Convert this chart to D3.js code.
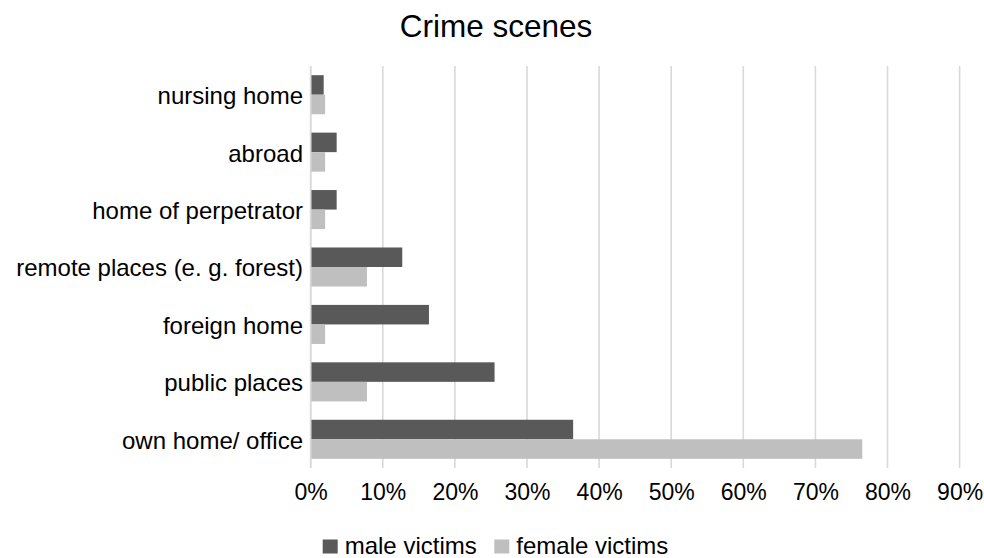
<!DOCTYPE html>
<html>
<head>
<meta charset="utf-8">
<script src="https://cdn.jsdelivr.net/npm/d3@7"></script>
<style>
  html, body { margin: 0; padding: 0; background: #fff; }
  svg { display: block; font-family: "Liberation Sans", Arial, sans-serif; }
</style>
</head>
<body>
<svg id="chart" width="984" height="558"></svg>
<script>
// Crime scenes by victim sex, share of cases
const categories = [
  "nursing home",
  "abroad",
  "home of perpetrator",
  "remote places (e. g. forest)",
  "foreign home",
  "public places",
  "own home/ office"
];
const maleValues   = [0.018, 0.036, 0.036, 0.127, 0.164, 0.255, 0.364];
const femaleValues = [0.020, 0.020, 0.020, 0.078, 0.020, 0.078, 0.765];
const seriesNames  = ["male victims", "female victims"];
const seriesColors = ["#595959", "#bfbfbf"];
const xTicks = [0, 0.1, 0.2, 0.3, 0.4, 0.5, 0.6, 0.7, 0.8, 0.9];
const title = "Crime scenes";

const svg = d3.select("#chart");

const x = d3.scaleLinear().domain([0, 0.9]).range([310.7, 959.6]);
const y = d3.scaleBand().domain(categories).range([66, 468])
  .paddingInner(0.32).paddingOuter(0.16);
const sub = d3.scaleBand().domain(seriesNames).range([0, y.bandwidth()]);

// Title
svg.append("text")
  .attr("x", 496).attr("y", 36.5)
  .attr("text-anchor", "middle")
  .attr("font-size", 31.5)
  .attr("fill", "#000")
  .text(title);

// Vertical gridlines
svg.append("g")
  .selectAll("line")
  .data(xTicks)
  .join("line")
  .attr("x1", d => x(d)).attr("x2", d => x(d))
  .attr("y1", 66).attr("y2", 468)
  .attr("stroke", "#d9d9d9")
  .attr("stroke-width", 1.6);

// Bars
const rows = categories.map((c, i) => ({ cat: c, values: [maleValues[i], femaleValues[i]] }));
const groups = svg.append("g")
  .selectAll("g")
  .data(rows)
  .join("g")
  .attr("transform", d => `translate(0,${y(d.cat)})`);

groups.selectAll("rect")
  .data(d => d.values.map((v, j) => ({ name: seriesNames[j], value: v, color: seriesColors[j] })))
  .join("rect")
  .attr("x", x(0))
  .attr("y", d => sub(d.name))
  .attr("width", d => x(d.value) - x(0))
  .attr("height", sub.bandwidth())
  .attr("fill", d => d.color);

// X axis labels
const xAxis = d3.axisBottom(x).tickValues(xTicks).tickFormat(d3.format(".0%")).tickSize(0).tickPadding(0);
const gx = svg.append("g").attr("transform", "translate(0,500)").call(xAxis);
gx.select(".domain").remove();
gx.selectAll("text")
  .attr("y", 0).attr("dy", 0)
  .attr("font-size", 23)
  .attr("font-family", "Liberation Sans, Arial, sans-serif")
  .attr("fill", "#000");

// Y axis labels
const yAxis = d3.axisLeft(y).tickSize(0).tickPadding(0);
const gy = svg.append("g").attr("transform", "translate(303,0)").call(yAxis);
gy.select(".domain").remove();
gy.selectAll("text")
  .attr("x", 0)
  .attr("dy", "0.39em")
  .attr("font-size", 24)
  .attr("font-family", "Liberation Sans, Arial, sans-serif")
  .attr("fill", "#000");

// Baseline at 0
svg.append("line")
  .attr("x1", x(0)).attr("x2", x(0))
  .attr("y1", 66).attr("y2", 468)
  .attr("stroke", "#d9d9d9")
  .attr("stroke-width", 1.6);

// Legend
const legendX = [322.7, 494.3];
const legend = svg.append("g")
  .selectAll("g")
  .data(seriesNames)
  .join("g")
  .attr("transform", (d, i) => `translate(${legendX[i]},0)`);
legend.append("rect")
  .attr("x", 0).attr("y", 539.5)
  .attr("width", 15).attr("height", 14)
  .attr("fill", (d, i) => seriesColors[i]);
legend.append("text")
  .attr("x", 22).attr("y", 553.5)
  .attr("font-size", 24)
  .attr("fill", "#000")
  .text(d => d);
</script>
</body>
</html>
